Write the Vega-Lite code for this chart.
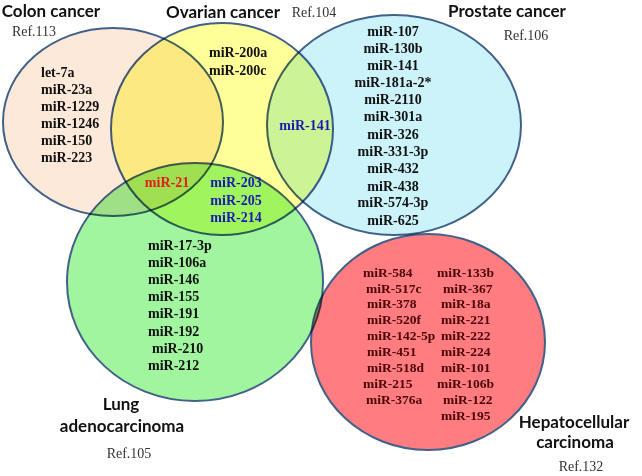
{
  "$schema": "https://vega.github.io/schema/vega-lite/v6.json",
  "width": 642,
  "height": 476,
  "autosize": "none",
  "padding": 0,
  "background": "white",
  "config": {"view": {"stroke": null}},
  "datasets": {
    "sets": [
      {"set": "Colon", "cx": 113, "cy": 122},
      {"set": "Ovarian", "cx": 222, "cy": 129},
      {"set": "Prostate", "cx": 394, "cy": 125},
      {"set": "Lung", "cx": 195, "cy": 282},
      {"set": "Hepatocellular", "cx": 428, "cy": 342}
    ],
    "titles": [
      {"text": "Colon cancer", "x": 51, "y": 12},
      {"text": "Ovarian cancer", "x": 223, "y": 13},
      {"text": "Prostate cancer", "x": 507, "y": 12},
      {"text": "Lung", "x": 121, "y": 405},
      {"text": "adenocarcinoma", "x": 122, "y": 427},
      {"text": "Hepatocellular", "x": 574, "y": 423},
      {"text": "carcinoma", "x": 575, "y": 443}
    ],
    "refs": [
      {"text": "Ref.113", "x": 34, "y": 32},
      {"text": "Ref.104", "x": 314, "y": 13},
      {"text": "Ref.106", "x": 526, "y": 36},
      {"text": "Ref.105", "x": 129, "y": 454},
      {"text": "Ref.132", "x": 581, "y": 467}
    ],
    "mirLeft": [
      {"mir": "let-7a", "region": "Colon", "x": 41, "y": 73},
      {"mir": "miR-23a", "region": "Colon", "x": 41, "y": 90},
      {"mir": "miR-1229", "region": "Colon", "x": 41, "y": 107},
      {"mir": "miR-1246", "region": "Colon", "x": 41, "y": 124},
      {"mir": "miR-150", "region": "Colon", "x": 41, "y": 141},
      {"mir": "miR-223", "region": "Colon", "x": 41, "y": 158},
      {"mir": "miR-200a", "region": "Ovarian", "x": 209, "y": 53},
      {"mir": "miR-200c", "region": "Ovarian", "x": 209, "y": 71},
      {"mir": "miR-17-3p", "region": "Lung", "x": 148, "y": 246},
      {"mir": "miR-106a", "region": "Lung", "x": 148, "y": 263},
      {"mir": "miR-146", "region": "Lung", "x": 148, "y": 280},
      {"mir": "miR-155", "region": "Lung", "x": 148, "y": 297},
      {"mir": "miR-191", "region": "Lung", "x": 148, "y": 314},
      {"mir": "miR-192", "region": "Lung", "x": 148, "y": 332},
      {"mir": "miR-210", "region": "Lung", "x": 152, "y": 349},
      {"mir": "miR-212", "region": "Lung", "x": 148, "y": 366}
    ],
    "mirHep": [
      {"mir": "miR-584", "region": "Hepatocellular", "x": 363, "y": 273},
      {"mir": "miR-517c", "region": "Hepatocellular", "x": 366, "y": 289},
      {"mir": "miR-378", "region": "Hepatocellular", "x": 367, "y": 304},
      {"mir": "miR-520f", "region": "Hepatocellular", "x": 367, "y": 320},
      {"mir": "miR-142-5p", "region": "Hepatocellular", "x": 367, "y": 336},
      {"mir": "miR-451", "region": "Hepatocellular", "x": 367, "y": 352},
      {"mir": "miR-518d", "region": "Hepatocellular", "x": 367, "y": 368},
      {"mir": "miR-215", "region": "Hepatocellular", "x": 363, "y": 384},
      {"mir": "miR-376a", "region": "Hepatocellular", "x": 366, "y": 400},
      {"mir": "miR-133b", "region": "Hepatocellular", "x": 437, "y": 273},
      {"mir": "miR-367", "region": "Hepatocellular", "x": 443, "y": 289},
      {"mir": "miR-18a", "region": "Hepatocellular", "x": 441, "y": 304},
      {"mir": "miR-221", "region": "Hepatocellular", "x": 441, "y": 320},
      {"mir": "miR-222", "region": "Hepatocellular", "x": 441, "y": 336},
      {"mir": "miR-224", "region": "Hepatocellular", "x": 441, "y": 352},
      {"mir": "miR-101", "region": "Hepatocellular", "x": 441, "y": 368},
      {"mir": "miR-106b", "region": "Hepatocellular", "x": 437, "y": 384},
      {"mir": "miR-122", "region": "Hepatocellular", "x": 443, "y": 400},
      {"mir": "miR-195", "region": "Hepatocellular", "x": 441, "y": 416}
    ],
    "mirCenter": [
      {"mir": "miR-107", "region": "Prostate", "x": 393, "y": 32},
      {"mir": "miR-130b", "region": "Prostate", "x": 393, "y": 49},
      {"mir": "miR-141", "region": "Prostate", "x": 393, "y": 66},
      {"mir": "miR-181a-2*", "region": "Prostate", "x": 393, "y": 83},
      {"mir": "miR-2110", "region": "Prostate", "x": 393, "y": 100},
      {"mir": "miR-301a", "region": "Prostate", "x": 393, "y": 117},
      {"mir": "miR-326", "region": "Prostate", "x": 393, "y": 135},
      {"mir": "miR-331-3p", "region": "Prostate", "x": 393, "y": 152},
      {"mir": "miR-432", "region": "Prostate", "x": 393, "y": 169},
      {"mir": "miR-438", "region": "Prostate", "x": 393, "y": 187},
      {"mir": "miR-574-3p", "region": "Prostate", "x": 393, "y": 203},
      {"mir": "miR-625", "region": "Prostate", "x": 393, "y": 221},
      {"mir": "miR-141", "region": "Ovarian∩Prostate", "x": 305, "y": 126},
      {"mir": "miR-21", "region": "Colon∩Ovarian∩Lung", "x": 167, "y": 183},
      {"mir": "miR-203", "region": "Ovarian∩Lung", "x": 236, "y": 183},
      {"mir": "miR-205", "region": "Ovarian∩Lung", "x": 236, "y": 201},
      {"mir": "miR-214", "region": "Ovarian∩Lung", "x": 236, "y": 218}
    ]
  },
  "resolve": {"scale": {"x": "shared", "y": "shared"}},
  "layer": [
    {
      "data": {"name": "sets"},
      "mark": {"type": "point", "filled": true, "opacity": 1, "size": 4, "stroke": "#41608A", "strokeWidth": 2, "strokeOpacity": 1, "blend": "multiply"},
      "encoding": {
        "x": {"field": "cx", "type": "quantitative", "scale": {"domain": [0, 642], "nice": false, "zero": false}, "axis": null},
        "y": {"field": "cy", "type": "quantitative", "scale": {"domain": [0, 476], "reverse": true, "nice": false, "zero": false}, "axis": null},
        "shape": {"field": "set", "type": "nominal", "legend": null, "scale": {
          "domain": ["Colon", "Ovarian", "Prostate", "Lung", "Hepatocellular"],
          "range": [
            "M110,0C110,51.9 60.8,94 0,94C-60.8,94 -110,51.9 -110,0C-110,-51.9 -60.8,-94 0,-94C60.8,-94 110,-51.9 110,0Z",
            "M111,0C111,58.5 61.3,106 0,106C-61.3,106 -111,58.5 -111,0C-111,-58.5 -61.3,-106 0,-106C61.3,-106 111,-58.5 111,0Z",
            "M127,0C127,60.8 70.1,110 0,110C-70.1,110 -127,60.8 -127,0C-127,-60.8 -70.1,-110 0,-110C70.1,-110 127,-60.8 127,0Z",
            "M128,0C128,65.7 70.7,119 0,119C-70.7,119 -128,65.7 -128,0C-128,-65.7 -70.7,-119 0,-119C70.7,-119 128,-65.7 128,0Z",
            "M117,0C117,59.6 64.6,108 0,108C-64.6,108 -117,59.6 -117,0C-117,-59.6 -64.6,-108 0,-108C64.6,-108 117,-59.6 117,0Z"
          ]}},
        "fill": {"field": "set", "type": "nominal", "legend": null, "scale": {
          "domain": ["Colon", "Ovarian", "Prostate", "Lung", "Hepatocellular"],
          "range": ["#FDE9D9", "#FFFF99", "#CCF3FA", "#A0F59E", "#FF7C80"]}}
      }
    },
    {
      "data": {"name": "titles"},
      "mark": {"type": "text", "font": "Lato", "fontWeight": "bold", "fontSize": 17, "align": "center", "baseline": "middle", "color": "#111111"},
      "encoding": {
        "x": {"field": "x", "type": "quantitative"},
        "y": {"field": "y", "type": "quantitative"},
        "text": {"field": "text"}
      }
    },
    {
      "data": {"name": "refs"},
      "mark": {"type": "text", "font": "Liberation Serif", "fontSize": 14, "align": "center", "baseline": "middle", "color": "#333333"},
      "encoding": {
        "x": {"field": "x", "type": "quantitative"},
        "y": {"field": "y", "type": "quantitative"},
        "text": {"field": "text"}
      }
    },
    {
      "data": {"name": "mirLeft"},
      "mark": {"type": "text", "font": "Liberation Serif", "fontWeight": "bold", "fontSize": 14, "align": "left", "baseline": "middle", "color": "#111111"},
      "encoding": {
        "x": {"field": "x", "type": "quantitative"},
        "y": {"field": "y", "type": "quantitative"},
        "text": {"field": "mir"}
      }
    },
    {
      "data": {"name": "mirHep"},
      "mark": {"type": "text", "font": "Liberation Serif", "fontWeight": "bold", "fontSize": 13.5, "align": "left", "baseline": "middle", "color": "#4A0606"},
      "encoding": {
        "x": {"field": "x", "type": "quantitative"},
        "y": {"field": "y", "type": "quantitative"},
        "text": {"field": "mir"}
      }
    },
    {
      "data": {"name": "mirCenter"},
      "mark": {"type": "text", "font": "Liberation Serif", "fontWeight": "bold", "fontSize": 14, "align": "center", "baseline": "middle"},
      "encoding": {
        "x": {"field": "x", "type": "quantitative"},
        "y": {"field": "y", "type": "quantitative"},
        "text": {"field": "mir"},
        "color": {"field": "region", "type": "nominal", "legend": null, "scale": {
          "domain": ["Prostate", "Ovarian∩Prostate", "Colon∩Ovarian∩Lung", "Ovarian∩Lung"],
          "range": ["#111111", "#1A1AB0", "#E0201A", "#1A1AB0"]}}
      }
    }
  ]
}
